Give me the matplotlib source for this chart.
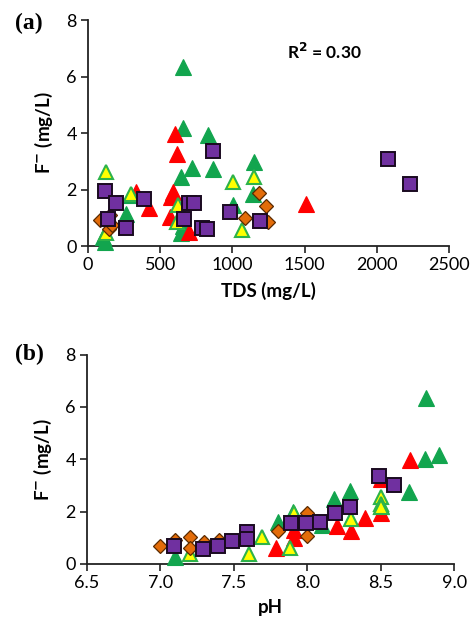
import matplotlib
matplotlib.use("Agg")
import matplotlib.pyplot as plt

plt.rcParams['font.family'] = ['Lato', 'DejaVu Sans']

# ---------------- Panel (a): F- vs TDS ----------------
a_green_tds = [657, 657, 830, 721, 869, 645, 1152, 265, 295, 104, 115, 645, 660, 1002, 1140]
a_green_f   = [6.33, 4.19, 3.94, 2.78, 2.74, 2.45, 2.98, 1.15, 1.80, 0.33, 0.15, 0.45, 0.70, 1.45, 1.86]

a_red_tds = [600, 615, 588, 576, 565, 422, 334, 1509, 700]
a_red_f   = [3.98, 3.27, 1.92, 1.74, 1.03, 1.33, 1.92, 1.50, 0.50]

a_yellow_tds = [127, 295, 1007, 1147, 1067, 622, 127, 615]
a_yellow_f   = [2.62, 1.84, 2.27, 2.45, 0.56, 1.45, 0.45, 0.86]

a_orange_tds = [81, 150, 145, 1182, 1233, 1090, 1244, 165]
a_orange_f   = [0.92, 1.10, 0.60, 1.88, 1.42, 1.01, 0.84, 0.74]

a_purple_tds = [115, 191, 265, 138, 387, 864, 703, 737, 664, 790, 825, 984, 1191, 2080, 2230]
a_purple_f   = [1.95, 1.54, 0.65, 0.94, 1.65, 3.36, 1.54, 1.54, 0.94, 0.65, 0.60, 1.19, 0.88, 3.08, 2.19]

# ---------------- Panel (b): F- vs pH ----------------
b_green_ph = [7.10, 8.18, 8.29, 8.69, 8.80, 8.90, 8.81, 7.80, 8.10, 8.50, 7.90]
b_green_f  = [0.28, 2.48, 2.80, 2.74, 4.00, 4.17, 6.33, 1.60, 1.50, 2.20, 2.00]

b_red_ph = [7.79, 7.91, 7.91, 8.20, 8.30, 8.39, 8.50, 8.70, 8.50]
b_red_f  = [0.60, 0.98, 1.30, 1.45, 1.24, 1.77, 1.94, 3.97, 3.25]

b_yellow_ph = [7.20, 7.60, 7.69, 7.88, 7.91, 8.30, 8.50, 8.50, 8.50]
b_yellow_f  = [0.37, 0.37, 1.04, 0.60, 1.96, 1.72, 2.57, 2.30, 2.19]

b_orange_ph = [7.00, 7.10, 7.20, 7.20, 7.30, 7.40, 7.80, 8.00, 8.00, 7.90]
b_orange_f  = [0.69, 0.92, 1.04, 0.62, 0.82, 0.92, 1.26, 1.94, 1.07, 1.55]

b_purple_ph = [7.09, 7.29, 7.39, 7.49, 7.59, 7.59, 7.89, 7.99, 8.09, 8.19, 8.29, 8.49, 8.59]
b_purple_f  = [0.70, 0.55, 0.70, 0.89, 1.21, 0.94, 1.58, 1.58, 1.60, 1.96, 2.17, 3.36, 3.02]

GREEN = '#12A54E'
RED = '#FF0000'
YELLOW = '#FFFF00'
ORANGE = '#E36C09'
PURPLE = '#7030A0'

fig = plt.figure(figsize=(4.73, 6.30), dpi=100)
ax1 = fig.add_axes([0.186, 0.6095, 0.763, 0.3585])
ax2 = fig.add_axes([0.184, 0.105, 0.776, 0.332])


def draw(ax, g, r, y, o, p):
    ax.plot(g[0], g[1], ls='none', marker='^', ms=11, mfc=GREEN, mec=GREEN, mew=0.8, zorder=3)
    ax.plot(r[0], r[1], ls='none', marker='^', ms=11, mfc=RED, mec=RED, mew=0.8, zorder=4)
    ax.plot(y[0], y[1], ls='none', marker='^', ms=10.5, mfc=YELLOW, mec='#2DB34A', mew=1.5, zorder=5)
    ax.plot(o[0], o[1], ls='none', marker='D', ms=7, mfc=ORANGE, mec='#5A2A00', mew=0.9, zorder=6)
    ax.plot(p[0], p[1], ls='none', marker='s', ms=10, mfc=PURPLE, mec='#1A0A20', mew=1.4, zorder=7)


def style(ax):
    for s in ['top', 'right']:
        ax.spines[s].set_visible(False)
    for s in ['left', 'bottom']:
        ax.spines[s].set_linewidth(1.3)
        ax.spines[s].set_color('#222222')
    ax.tick_params(direction='out', length=5, width=1.2, labelsize=13, colors='#222222',
                   labelcolor='black', pad=3)
    ax.set_ylim(0, 8)
    ax.set_yticks([0, 2, 4, 6, 8])


draw(ax1, (a_green_tds, a_green_f), (a_red_tds, a_red_f), (a_yellow_tds, a_yellow_f),
     (a_orange_tds, a_orange_f), (a_purple_tds, a_purple_f))
style(ax1)
ax1.set_xlim(0, 2500)
ax1.set_xticks([0, 500, 1000, 1500, 2000, 2500])
ax1.set_xlabel('TDS (mg/L)', fontsize=13.5, fontweight='bold', labelpad=6)
ax1.set_ylabel('F$^{\\mathbf{-}}$ (mg/L)', fontsize=13.5, fontweight='bold', labelpad=8)
ax1.text(1378, 6.87, 'R$^{\\mathbf{2}}$ = 0.30', fontsize=12.5, fontweight='bold', va='center', ha='left')

draw(ax2, (b_green_ph, b_green_f), (b_red_ph, b_red_f), (b_yellow_ph, b_yellow_f),
     (b_orange_ph, b_orange_f), (b_purple_ph, b_purple_f))
style(ax2)
ax2.set_xlim(6.5, 9.0)
ax2.set_xticks([6.5, 7.0, 7.5, 8.0, 8.5, 9.0])
ax2.set_xticklabels(['6.5', '7.0', '7.5', '8.0', '8.5', '9.0'])
ax2.set_xlabel('pH', fontsize=13.5, fontweight='bold', labelpad=6)
ax2.set_ylabel('F$^{\\mathbf{-}}$ (mg/L)', fontsize=13.5, fontweight='bold', labelpad=8)

for ax in (ax1, ax2):
    for line in ax.lines:
        line.set_clip_on(False)

fig.text(0.032, 0.962, '(a)', fontsize=17, fontweight='bold', family='Liberation Serif', va='center')
fig.text(0.032, 0.437, '(b)', fontsize=17, fontweight='bold', family='Liberation Serif', va='center')

fig.savefig('out.png', dpi=100)
